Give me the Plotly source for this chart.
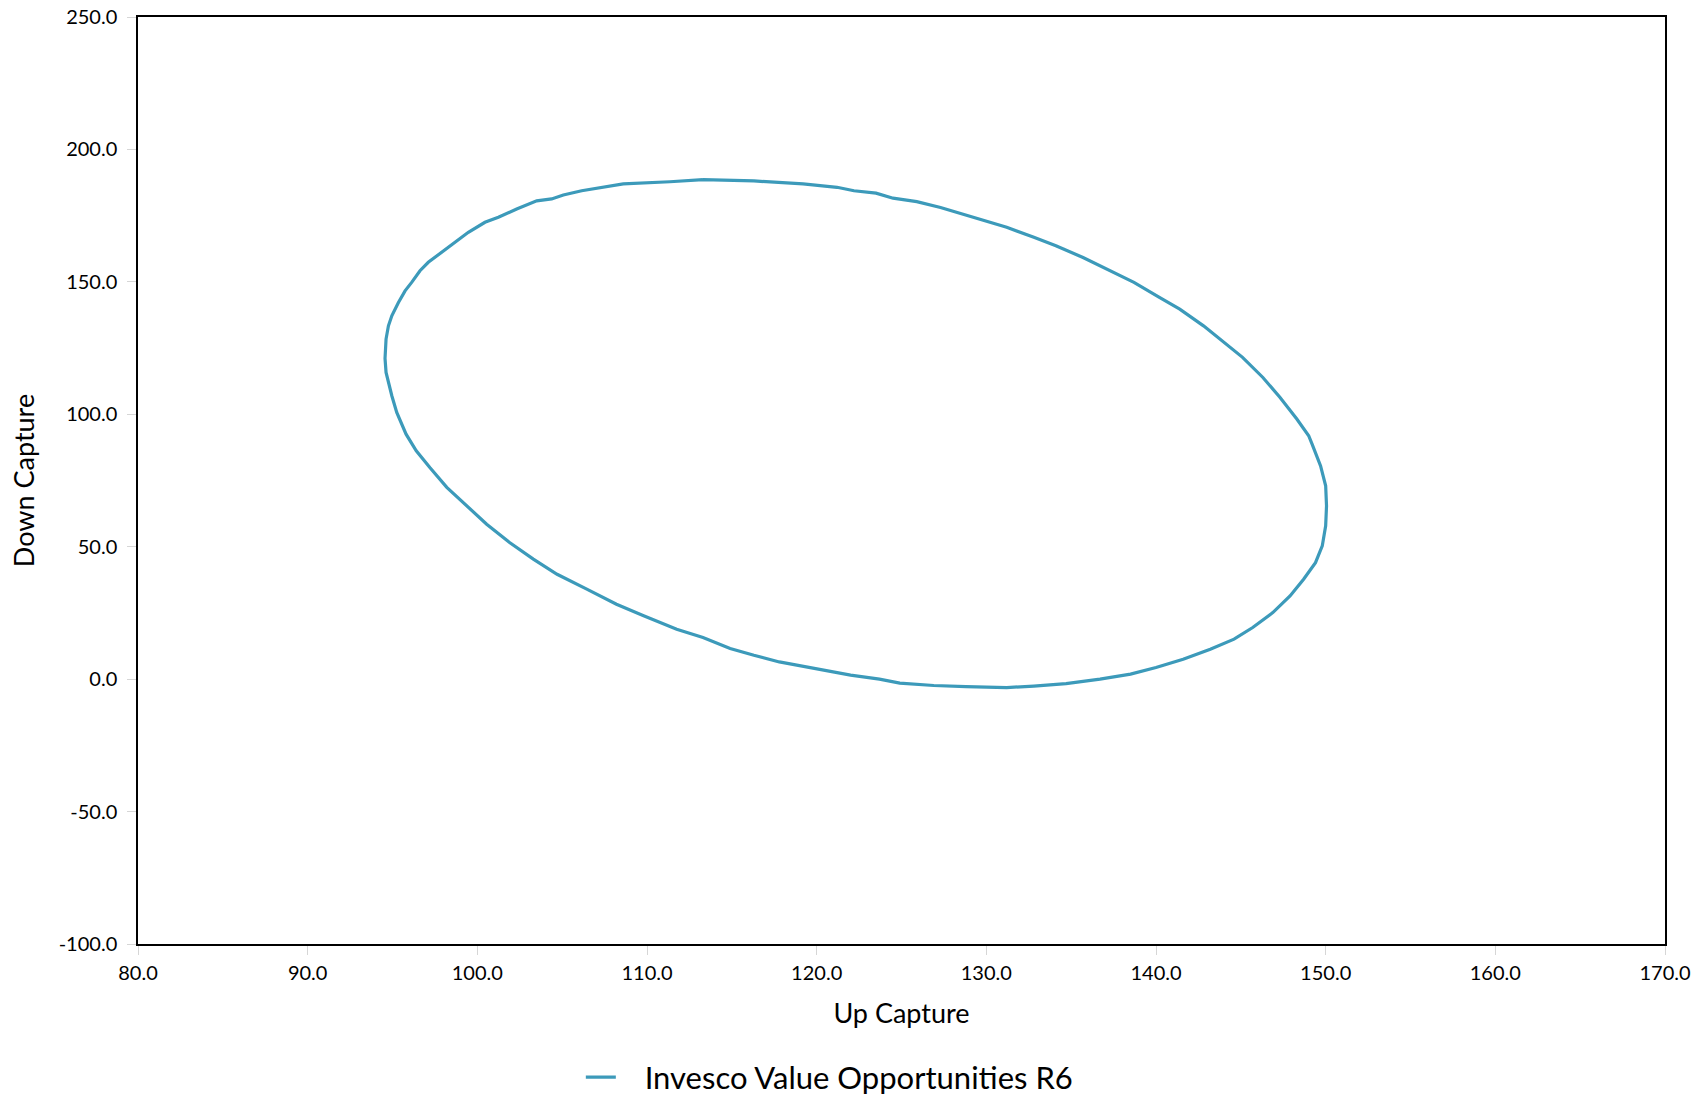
import plotly.graph_objects as go

series_name = "Invesco Value Opportunities R6"

up_capture = [
    113.3, 116.3, 119.2, 121.2, 122.2, 123.5, 124.5, 125.9, 127.3, 128.4,
    129.8, 131.2, 132.8, 134.1, 135.7, 137.1, 138.7, 140.2, 141.4, 142.8,
    144.0, 145.1, 146.3, 147.3, 148.3, 149.0, 149.2, 149.5, 149.7, 150.0,
    150.05, 150.0, 149.8, 149.4, 148.7, 147.9, 146.9, 145.7, 144.6, 143.2,
    141.6, 140.0, 138.5, 136.7, 134.7, 132.8, 131.2, 128.8, 126.9, 124.9,
    123.7, 122.0, 119.8, 117.8, 116.3, 114.9, 113.3, 111.75, 109.8, 108.2,
    106.45, 104.7, 103.3, 101.9, 100.55, 99.4, 98.2, 97.2, 96.4, 95.8,
    95.45, 95.25, 94.96, 94.76, 94.62, 94.56, 94.62, 94.76, 94.96, 95.35,
    95.74, 96.13, 96.62, 97.11, 97.9, 98.79, 99.47, 100.45, 101.24, 102.32,
    103.5, 104.38, 105.07, 106.15, 107.42, 108.6, 111.35, 113.3,
]

down_capture = [
    188.6, 188.1, 187.0, 185.7, 184.4, 183.5, 181.6, 180.3, 178.1, 176.0,
    173.5, 170.6, 166.8, 163.6, 159.2, 154.8, 149.8, 144.1, 139.7, 133.4,
    127.1, 121.5, 113.9, 106.4, 98.2, 91.9, 88.7, 83.7, 80.5, 73.0,
    65.4, 57.9, 50.3, 44.0, 37.7, 31.4, 25.2, 19.5, 15.1, 11.3,
    7.5, 4.4, 1.9, 0.0, -1.7, -2.6, -3.2, -2.8, -2.4, -1.5,
    0.0, 1.5, 4.0, 6.5, 9.0, 11.6, 15.7, 18.8, 23.9, 28.3,
    34.0, 39.6, 45.3, 51.6, 58.5, 65.4, 72.4, 79.9, 86.2, 92.5,
    98.2, 100.7, 107.0, 112.0, 115.8, 121.1, 128.4, 133.4, 137.2, 142.2,
    146.6, 149.8, 154.2, 157.4, 161.1, 165.5, 168.7, 172.5, 174.4, 177.5,
    180.6, 181.3, 182.8, 184.4, 185.7, 187.0, 187.8, 188.6,
]

x_tick_vals = [80, 90, 100, 110, 120, 130, 140, 150, 160, 170]
x_tick_text = ["80.0", "90.0", "100.0", "110.0", "120.0", "130.0",
               "140.0", "150.0", "160.0", "170.0"]
y_tick_vals = [-100, -50, 0, 50, 100, 150, 200, 250]
y_tick_text = ["-100.0", "-50.0", "0.0", "50.0", "100.0", "150.0",
               "200.0", "250.0"]

FONT = "Lato, 'Open Sans', sans-serif"

fig = go.Figure()
fig.add_trace(go.Scatter(
    x=up_capture, y=down_capture, mode="lines",
    name="\u00a0\u00a0\u00a0" + series_name,
    line=dict(color="#3c9aba", width=3.2),
    showlegend=True,
))

axis_common = dict(
    showline=True, linecolor="black", linewidth=1.5, mirror=True,
    showgrid=False, zeroline=False, automargin=False,
    ticklabeloverflow="allow",
    ticks="outside", ticklen=9, tickcolor="#d6d6d6", tickwidth=1,
    tickfont=dict(family=FONT, size=20, color="black"),
)

fig.update_xaxes(
    range=[80, 170], tickvals=x_tick_vals, ticktext=x_tick_text,
    ticklabelstandoff=1,
    title=dict(text="Up Capture", font=dict(family=FONT, size=27, color="black"),
               standoff=21),
    **axis_common,
)
fig.update_yaxes(
    range=[-100, 250], tickvals=y_tick_vals, ticktext=y_tick_text,
    ticklabelstandoff=6,
    title=dict(text="Down Capture", font=dict(family=FONT, size=27, color="black"),
               standoff=16),
    **axis_common,
)

fig.update_layout(
    width=1703, height=1097,
    margin=dict(l=138, r=38, t=17, b=153, autoexpand=False),
    paper_bgcolor="white", plot_bgcolor="white",
    font=dict(family=FONT, color="black"),
    legend=dict(
        orientation="h", x=0.29, xanchor="left", y=-0.144, yanchor="middle",
        font=dict(family=FONT, size=31, color="black"),
        itemwidth=30,
    ),
)

fig.write_html(
    "out.html",
    config={"displayModeBar": False},
    post_script="document.body.style.margin='0';document.body.style.overflow='hidden';",
)
